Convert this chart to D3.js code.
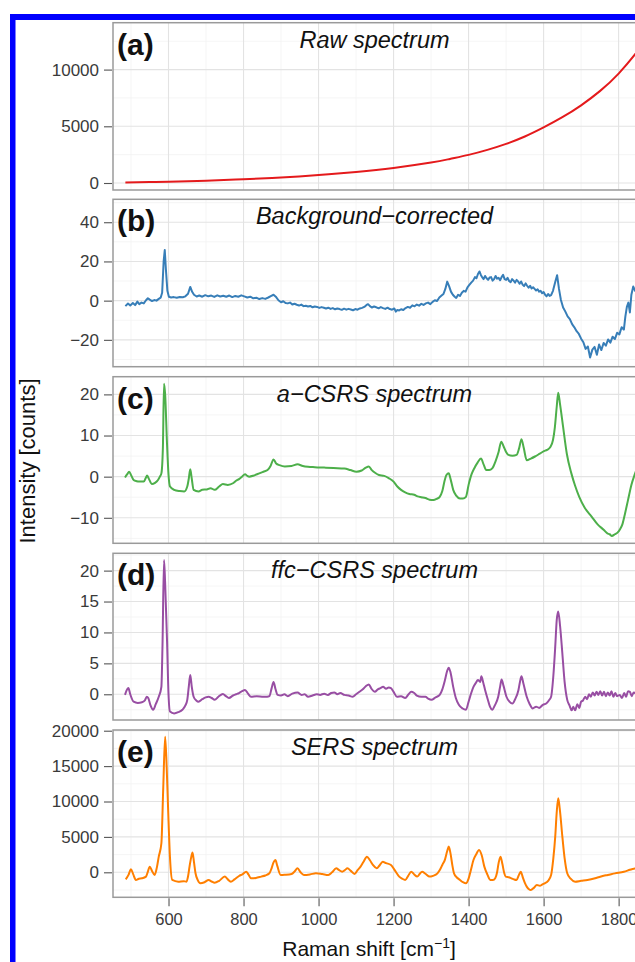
<!DOCTYPE html>
<html>
<head>
<meta charset="utf-8">
<script src="https://cdn.jsdelivr.net/npm/d3@7"></script>
<style>
  html, body { margin: 0; padding: 0; background: #fff; }
  svg { display: block; font-family: "Liberation Sans", Arial, Helvetica, sans-serif; }
</style>
</head>
<body>
<svg id="chart" width="635" height="962"></svg>
<script>
// ---- Spectra: [Raman shift (cm^-1), intensity] ----
const rawSpectrum = [
  [485, 45], [550, 80], [600, 115], [700, 200], [800, 330], [900, 480], [1000, 700],
  [1100, 980], [1200, 1330], [1300, 1800], [1350, 2120], [1400, 2480], [1450, 2920],
  [1500, 3450], [1550, 4100], [1600, 4900], [1650, 5800], [1700, 6850], [1750, 8100],
  [1800, 9650], [1850, 11600], [1880, 13000]
];

const backgroundCorrected = [
  [485, -2.8], [492, -1.5], [498, -2.5], [505, -1.2], [511, -2.3], [517, -0.5], [522, -1.8],
  [528, -1.0], [534, -1.4], [540, 0.2], [545, 1.2], [550, 0.5], [556, -0.2], [562, 0.3],
  [568, 0.0], [574, 0.9], [579, 1.5], [583, 4.0], [587, 20.0], [590, 25.8], [593, 16.0],
  [597, 5.0], [601, 2.0], [607, 1.6], [614, 1.8], [622, 1.5], [630, 1.9], [638, 1.7],
  [645, 2.2], [652, 3.5], [658, 7.0], [663, 4.5], [668, 3.0], [675, 2.1], [682, 2.6],
  [690, 2.0], [698, 2.8], [706, 2.2], [714, 2.6], [722, 1.9], [730, 2.7], [738, 2.1],
  [746, 2.5], [754, 2.0], [762, 2.6], [770, 1.8], [778, 2.4], [786, 2.0], [794, 2.7],
  [802, 2.2], [810, 1.6], [818, 2.0], [826, 1.2], [834, 1.5], [842, 0.8], [850, 1.3],
  [858, 0.9], [866, 1.6], [874, 2.4], [880, 3.0], [886, 2.0], [893, 0.2], [900, -0.8],
  [906, -0.3], [912, -1.2], [918, -1.4], [924, -1.0], [930, -2.0], [936, -1.6], [942, -2.1],
  [948, -2.5], [954, -2.0], [960, -2.8], [966, -2.6], [972, -3.0], [978, -2.7], [984, -3.4],
  [990, -3.0], [996, -3.2], [1002, -3.7], [1008, -3.3], [1014, -3.6], [1020, -4.0],
  [1026, -3.6], [1032, -4.2], [1038, -3.8], [1044, -4.4], [1050, -4.0], [1056, -4.3],
  [1062, -4.7], [1068, -4.1], [1074, -4.6], [1080, -4.2], [1086, -4.5], [1092, -4.9],
  [1098, -4.3], [1104, -4.6], [1110, -4.0], [1116, -3.7], [1122, -3.2], [1128, -2.2],
  [1132, -1.8], [1137, -2.8], [1142, -3.5], [1148, -3.0], [1154, -3.4], [1160, -3.9],
  [1166, -3.3], [1172, -3.8], [1178, -4.2], [1184, -3.6], [1190, -4.3], [1196, -4.6],
  [1202, -4.0], [1206, -5.6], [1210, -4.8], [1215, -5.0], [1220, -4.4], [1226, -4.8],
  [1232, -3.8], [1238, -3.2], [1244, -3.6], [1250, -2.4], [1256, -2.9], [1262, -2.0],
  [1268, -2.6], [1274, -1.6], [1280, -2.2], [1286, -1.4], [1292, -1.0], [1298, -1.8],
  [1304, -0.6], [1310, 0.2], [1316, -0.2], [1322, 1.6], [1328, 2.6], [1333, 3.4],
  [1338, 6.0], [1343, 9.7], [1348, 7.4], [1353, 4.6], [1358, 3.0], [1363, 2.0], [1367, 1.4],
  [1372, 3.0], [1377, 2.4], [1382, 4.0], [1387, 5.0], [1392, 4.6], [1397, 6.8], [1402, 8.0],
  [1407, 9.2], [1412, 10.2], [1417, 12.0], [1421, 11.4], [1425, 13.6], [1429, 14.9],
  [1433, 13.0], [1436, 12.0], [1440, 11.0], [1444, 12.6], [1448, 11.4], [1452, 10.6],
  [1456, 11.8], [1460, 12.0], [1464, 10.2], [1468, 11.0], [1472, 12.6], [1476, 11.2],
  [1480, 11.6], [1484, 10.4], [1488, 12.0], [1492, 13.2], [1496, 11.0], [1500, 10.6],
  [1504, 11.6], [1508, 10.0], [1512, 9.4], [1516, 11.0], [1520, 10.2], [1524, 9.2],
  [1528, 10.6], [1532, 9.8], [1536, 8.6], [1540, 9.8], [1544, 8.2], [1548, 7.4], [1552, 8.8],
  [1556, 7.6], [1560, 6.6], [1564, 7.6], [1568, 6.2], [1572, 6.8], [1576, 6.0], [1580, 5.2],
  [1584, 5.8], [1588, 4.6], [1592, 5.0], [1596, 3.8], [1600, 4.4], [1604, 3.0], [1608, 2.2],
  [1612, 3.4], [1616, 2.4], [1620, 2.8], [1625, 5.0], [1631, 9.5], [1636, 13.0], [1641, 6.0],
  [1646, 0.5], [1652, -3.5], [1658, -5.6], [1664, -8.0], [1670, -9.4], [1676, -12.0],
  [1682, -13.6], [1688, -15.6], [1694, -17.0], [1700, -19.4], [1706, -21.2], [1712, -24.6],
  [1718, -23.4], [1724, -29.0], [1730, -25.0], [1736, -23.6], [1742, -27.6], [1748, -22.4],
  [1754, -25.2], [1760, -21.6], [1766, -23.0], [1772, -19.8], [1778, -21.4], [1784, -18.4],
  [1790, -19.6], [1796, -16.4], [1802, -17.2], [1808, -13.6], [1814, -14.8], [1818, -8.0],
  [1822, -3.2], [1826, -1.0], [1830, -6.0], [1834, 3.0], [1839, 7.2], [1844, 5.0],
  [1850, 9.0], [1856, 14.0]
];

const aCsrsSpectrum = [
  [484, -0.2], [490, 0.6], [495, 1.2], [501, 0.2], [507, -0.8], [515, -1.1], [523, -1.2],
  [534, -1.2], [539, -0.4], [543, 0.3], [548, -0.6], [556, -1.8], [564, -1.5], [572, -0.8],
  [577, 0.0], [581, 0.8], [585, 7.0], [588, 22.6], [591, 20.0], [596, 8.0], [600, 0.5],
  [604, -2.4], [615, -3.2], [630, -3.5], [642, -3.6], [650, -2.4], [654, -0.5], [658, 1.8],
  [662, -0.5], [667, -3.2], [680, -3.6], [690, -3.2], [702, -3.1], [712, -2.8], [723, -3.2],
  [735, -2.4], [745, -1.8], [758, -2.0], [772, -1.6], [780, -1.0], [788, -0.6], [796, 0.0],
  [804, 0.6], [810, 0.2], [815, 0.0], [828, 0.3], [842, 0.8], [853, 1.2], [864, 1.6],
  [872, 2.6], [880, 4.2], [887, 3.2], [896, 2.8], [910, 2.5], [928, 2.6], [944, 3.0],
  [958, 2.6], [972, 2.4], [990, 2.3], [1015, 2.2], [1040, 2.1], [1069, 2.0], [1085, 1.6],
  [1101, 1.2], [1115, 1.5], [1126, 2.2], [1134, 2.5], [1142, 1.6], [1150, 1.0], [1161, 0.4],
  [1175, 0.2], [1188, -0.4], [1200, -1.2], [1210, -2.4], [1220, -3.2], [1231, -3.8],
  [1242, -4.2], [1255, -4.4], [1264, -4.8], [1274, -5.0], [1285, -5.2], [1296, -5.6],
  [1306, -5.7], [1315, -5.4], [1323, -4.9], [1330, -3.5], [1336, -1.0], [1341, 0.4],
  [1347, 0.8], [1352, -0.6], [1359, -3.2], [1367, -4.6], [1377, -5.3], [1385, -5.3],
  [1393, -4.9], [1400, -2.0], [1408, 0.6], [1415, 2.0], [1424, 3.4], [1433, 4.4],
  [1440, 3.0], [1447, 1.6], [1455, 1.6], [1463, 2.0], [1472, 3.8], [1480, 6.0], [1487, 8.5],
  [1494, 7.2], [1500, 6.0], [1506, 5.3], [1517, 5.1], [1528, 5.3], [1535, 7.0], [1541, 9.1],
  [1547, 7.0], [1555, 4.0], [1566, 4.4], [1577, 4.9], [1590, 5.6], [1601, 6.2], [1609, 6.5],
  [1618, 7.2], [1625, 8.9], [1630, 12.0], [1635, 17.0], [1639, 20.4], [1644, 17.5],
  [1652, 12.1], [1662, 5.5], [1674, 0.8], [1684, -2.2], [1695, -4.9], [1710, -7.6],
  [1728, -9.7], [1744, -11.6], [1760, -12.9], [1770, -13.8], [1776, -14.0], [1782, -14.4],
  [1790, -14.0], [1797, -13.6], [1803, -12.9], [1810, -11.6], [1817, -9.0], [1825, -5.7],
  [1834, -2.0], [1844, 0.8], [1856, 4.0]
];

const ffcCsrsSpectrum = [
  [484, -0.1], [488, 0.6], [493, 1.0], [498, 0.0], [507, -1.2], [518, -1.4], [529, -1.3],
  [537, -1.0], [542, -0.4], [546, -0.6], [552, -1.8], [559, -2.5], [566, -1.6], [574, -0.4],
  [581, 1.2], [584, 8.0], [588, 21.7], [591, 18.0], [596, 8.8], [600, 0.0], [604, -2.8],
  [615, -3.1], [626, -2.9], [637, -2.5], [645, -1.8], [650, -0.9], [654, 1.2], [658, 3.1],
  [662, 1.2], [667, -0.4], [674, -1.0], [680, -1.2], [690, -0.8], [699, -0.5], [707, -0.4],
  [715, -0.6], [723, -0.9], [733, -0.4], [745, 0.05], [753, -0.3], [761, -0.6], [772, -0.2],
  [780, 0.0], [788, 0.2], [796, 0.5], [804, 0.7], [812, 0.1], [820, -0.4], [835, -0.3],
  [853, -0.4], [863, -0.4], [869, -0.3], [875, 1.0], [880, 2.0], [885, 0.9], [891, -0.1],
  [900, -0.2], [909, 0.0], [918, -0.3], [930, 0.1], [944, 0.3], [955, -0.1], [963, 0.0],
  [972, -0.4], [984, -0.2], [995, 0.0], [1004, -0.1], [1015, 0.1], [1025, -0.1], [1034, 0.2],
  [1042, 0.3], [1050, 0.0], [1058, 0.2], [1069, -0.1], [1080, -0.2], [1091, -0.4],
  [1100, 0.0], [1109, 0.4], [1118, 0.8], [1126, 1.3], [1134, 1.6], [1141, 0.9], [1150, 0.4],
  [1158, 0.8], [1165, 1.0], [1172, 1.2], [1180, 0.9], [1187, 1.1], [1193, 1.0], [1200, 0.4],
  [1209, -0.4], [1220, -0.3], [1231, -0.6], [1240, 0.0], [1247, 0.4], [1255, 0.2],
  [1262, -0.2], [1274, -0.4], [1285, -0.4], [1292, -0.7], [1301, -0.9], [1312, -0.5],
  [1323, -0.1], [1330, 0.8], [1337, 2.3], [1343, 3.8], [1347, 4.3], [1352, 3.5], [1359, 1.2],
  [1366, -0.6], [1374, -1.7], [1384, -2.3], [1393, -2.5], [1400, -1.2], [1407, 0.2],
  [1413, 1.2], [1419, 1.8], [1425, 2.3], [1431, 2.0], [1434, 2.9], [1439, 1.9], [1444, 0.7],
  [1451, -0.8], [1457, -2.0], [1463, -2.5], [1470, -1.8], [1479, -0.4], [1484, 1.2],
  [1488, 2.4], [1493, 1.4], [1501, -0.4], [1509, -1.2], [1517, -1.5], [1524, -0.8],
  [1533, 0.7], [1537, 2.0], [1541, 2.9], [1546, 1.8], [1555, -0.4], [1563, -1.6],
  [1571, -2.3], [1580, -2.0], [1588, -2.2], [1598, -1.7], [1607, -1.5], [1614, -1.0],
  [1620, -0.4], [1626, 3.0], [1631, 7.7], [1635, 12.0], [1639, 13.4], [1644, 11.0],
  [1650, 6.6], [1656, 2.0], [1663, -0.9], [1669, -1.8], [1675, -2.6], [1679, -2.0],
  [1684, -2.6], [1690, -1.6], [1695, -2.2], [1700, -1.2], [1705, -1.0], [1711, -0.4],
  [1716, -0.8], [1721, 0.0], [1726, -0.4], [1731, 0.3], [1736, -0.2], [1741, 0.4],
  [1746, -0.1], [1751, 0.5], [1756, -0.2], [1761, 0.4], [1766, -0.3], [1771, 0.3],
  [1776, -0.2], [1781, 0.5], [1786, -0.4], [1791, 0.2], [1796, -0.3], [1803, -0.1],
  [1809, -0.6], [1815, 0.2], [1820, -0.4], [1825, 0.5], [1830, 0.4], [1835, -0.3],
  [1840, 0.3], [1844, 0.2], [1856, 0.0]
];

const sersSpectrum = [
  [486, -990], [493, -400], [500, 420], [506, -300], [513, -1080], [521, -900], [529, -850],
  [540, -610], [545, 100], [550, 800], [556, 200], [563, -380], [569, 700], [574, 2210],
  [581, 4100], [586, 12000], [591, 19160], [595, 15000], [599, 8800], [604, 2000],
  [610, -1080], [626, -1320], [640, -1250], [648, -1320], [652, -600], [656, 800],
  [660, 2000], [664, 2780], [668, 1400], [672, -140], [678, -1100], [685, -1550],
  [696, -1400], [707, -1080], [715, -1300], [723, -1460], [735, -1200], [750, -610],
  [758, -1000], [766, -1320], [776, -1000], [788, -520], [798, -250], [807, 90], [813, -300],
  [820, -850], [833, -800], [847, -610], [858, -450], [869, -140], [875, 600], [880, 1400],
  [885, 1740], [890, 900], [899, -380], [910, -350], [928, -240], [936, 100], [944, 560],
  [952, 0], [961, -380], [977, -300], [993, -140], [1010, -250], [1026, -380], [1036, 0],
  [1047, 560], [1055, 300], [1063, 90], [1070, 300], [1077, 560], [1086, 200], [1096, -240],
  [1104, 300], [1112, 800], [1120, 1500], [1129, 2210], [1137, 1700], [1145, 1040],
  [1155, 560], [1163, 1000], [1171, 1500], [1180, 1300], [1193, 1040], [1203, 300],
  [1215, -610], [1223, -900], [1231, -1080], [1239, -500], [1247, 90], [1255, -300],
  [1263, -610], [1270, -200], [1276, 90], [1285, -200], [1296, -610], [1305, -500],
  [1317, -140], [1324, 400], [1330, 1040], [1337, 1800], [1343, 3000], [1347, 3630],
  [1352, 2600], [1357, 900], [1361, -140], [1368, -700], [1377, -1080], [1385, -1400],
  [1393, -1550], [1400, -900], [1406, 300], [1413, 1740], [1420, 2500], [1428, 3150],
  [1435, 2400], [1442, 800], [1450, -300], [1458, -1080], [1465, -1100], [1471, -850],
  [1476, 0], [1480, 1300], [1485, 2210], [1490, 1200], [1495, -100], [1499, -610],
  [1507, -700], [1514, -850], [1521, -1000], [1528, -1080], [1534, -400], [1539, 90],
  [1545, -800], [1550, -1500], [1555, -2020], [1561, -2400], [1566, -2500], [1574, -2200],
  [1582, -1790], [1590, -1900], [1597, -1700], [1603, -1550], [1612, -1200], [1620, -380],
  [1626, 2000], [1631, 5040], [1635, 8500], [1639, 10450], [1643, 9000], [1650, 5040],
  [1656, 2000], [1663, -140], [1672, -900], [1684, -1320], [1700, -1200], [1717, -1080],
  [1740, -800], [1760, -500], [1771, -380], [1790, -150], [1814, 90], [1830, 350],
  [1844, 560], [1856, 750]
];

// ---- Axis ticks ----
const xTicks = [600, 800, 1000, 1200, 1400, 1600, 1800];
const xMinorTicks = [500, 700, 900, 1100, 1300, 1500, 1700, 1900];
const ticksA = [0, 5000, 10000];
const ticksB = [-20, 0, 20, 40];
const ticksC = [-10, 0, 10, 20];
const ticksD = [0, 5, 10, 15, 20];
const ticksE = [0, 5000, 10000, 15000, 20000];

const panelLabels = ["(a)", "(b)", "(c)", "(d)", "(e)"];
const panelTitles = ["Raw spectrum", "Background\u2212corrected", "a\u2212CSRS spectrum",
                     "ffc\u2212CSRS spectrum", "SERS spectrum"];
const seriesColors = ["#e41a1c", "#377eb8", "#4daf4a", "#984ea3", "#ff7f00"];

// ---- Layout ----
const W = 635, H = 962;
const panelLeft = 113, panelRight = 640;
const panels = [
  { data: rawSpectrum,         ticks: ticksA, top: 22.7,  bottom: 190,   domain: [-617, 14135], curve: d3.curveNatural },
  { data: backgroundCorrected, ticks: ticksB, top: 199.3, bottom: 366.7, domain: [-33.7, 51.7], curve: d3.curveLinear },
  { data: aCsrsSpectrum,       ticks: ticksC, top: 376.7, bottom: 543.3, domain: [-16.2, 24.3], curve: d3.curveMonotoneX },
  { data: ffcCsrsSpectrum,     ticks: ticksD, top: 553.3, bottom: 720,   domain: [-4.16, 22.8], curve: d3.curveMonotoneX },
  { data: sersSpectrum,        ticks: ticksE, top: 730,   bottom: 897.3, domain: [-3531, 20100], curve: d3.curveMonotoneX }
];

const svg = d3.select("#chart");
svg.append("rect").attr("width", W).attr("height", H).attr("fill", "#fff");

const x = d3.scaleLinear().domain([452, 1857]).range([panelLeft, panelRight]);
const fmt = v => (v < 0 ? "\u2212" + Math.abs(v) : String(v));

panels.forEach((p, i) => {
  const y = d3.scaleLinear().domain(p.domain).range([p.bottom, p.top]);
  const g = svg.append("g");
  const clipId = "clip" + i;
  g.append("clipPath").attr("id", clipId)
    .append("rect").attr("x", panelLeft).attr("y", p.top)
    .attr("width", panelRight - panelLeft).attr("height", p.bottom - p.top);

  const grid = g.append("g").attr("clip-path", `url(#${clipId})`);
  // minor grid lines halfway between the major ones
  const step = p.ticks[1] - p.ticks[0];
  const yMinor = d3.range(p.ticks[0] - step / 2, p.domain[1], step).filter(v => v > p.domain[0]);
  grid.selectAll(".ymin").data(yMinor).join("line")
    .attr("x1", panelLeft).attr("x2", panelRight)
    .attr("y1", d => y(d)).attr("y2", d => y(d))
    .attr("stroke", "#f2f2f2").attr("stroke-width", 0.8);
  grid.selectAll(".xmin").data(xMinorTicks).join("line")
    .attr("x1", d => x(d)).attr("x2", d => x(d))
    .attr("y1", p.top).attr("y2", p.bottom)
    .attr("stroke", "#f2f2f2").attr("stroke-width", 0.8);
  // major grid
  grid.selectAll(".ymaj").data(p.ticks).join("line")
    .attr("x1", panelLeft).attr("x2", panelRight)
    .attr("y1", d => y(d)).attr("y2", d => y(d))
    .attr("stroke", "#e3e3e3").attr("stroke-width", 1.1);
  grid.selectAll(".xmaj").data(xTicks).join("line")
    .attr("x1", d => x(d)).attr("x2", d => x(d))
    .attr("y1", p.top).attr("y2", p.bottom)
    .attr("stroke", "#e3e3e3").attr("stroke-width", 1.1);

  // spectrum trace
  const line = d3.line().x(d => x(d[0])).y(d => y(d[1])).curve(p.curve);
  g.append("path").datum(p.data)
    .attr("clip-path", `url(#${clipId})`)
    .attr("d", line)
    .attr("fill", "none")
    .attr("stroke", seriesColors[i])
    .attr("stroke-width", 2)
    .attr("stroke-linejoin", "round");

  // panel border
  g.append("rect")
    .attr("x", panelLeft).attr("y", p.top)
    .attr("width", panelRight - panelLeft).attr("height", p.bottom - p.top)
    .attr("fill", "none").attr("stroke", "#9a9a9a").attr("stroke-width", 1.5);

  // y axis
  const ax = g.append("g").attr("transform", `translate(${panelLeft - 1},0)`)
    .call(d3.axisLeft(y).tickValues(p.ticks).tickSize(8).tickPadding(5).tickFormat(fmt));
  ax.select(".domain").remove();
  ax.selectAll(".tick line").attr("stroke", "#555").attr("stroke-width", 1.1);
  ax.selectAll(".tick text").attr("fill", "#3a3a3a").style("font-size", "17px")
    .style("font-family", "'Liberation Sans', Arial, sans-serif");

  // panel label and title
  g.append("text").attr("x", 117).attr("y", p.top + 32)
    .attr("font-size", 30).attr("font-weight", "bold").attr("fill", "#111")
    .text(panelLabels[i]);
  g.append("text").attr("x", 374.5).attr("y", p.top + 25)
    .attr("text-anchor", "middle").attr("font-size", 23.5).attr("font-style", "italic")
    .attr("fill", "#111").text(panelTitles[i]);

  // x axis under the bottom panel
  if (i === panels.length - 1) {
    const xa = g.append("g").attr("transform", `translate(0,${p.bottom + 1})`)
      .call(d3.axisBottom(x).tickValues(xTicks).tickSize(8).tickPadding(7).tickFormat(String));
    xa.select(".domain").remove();
    xa.selectAll(".tick line").attr("stroke", "#555").attr("stroke-width", 1.1);
    xa.selectAll(".tick text").attr("fill", "#3a3a3a").style("font-size", "16.5px")
      .style("font-family", "'Liberation Sans', Arial, sans-serif");
  }
});

// axis titles
const xt = svg.append("text").attr("x", 369).attr("y", 956)
  .attr("text-anchor", "middle").attr("font-size", 21).attr("fill", "#111");
xt.append("tspan").text("Raman shift [cm");
xt.append("tspan").attr("dy", -8).attr("font-size", 14).text("\u22121");
xt.append("tspan").attr("dy", 8).text("]");

svg.append("text")
  .attr("transform", "translate(35,461) rotate(-90)")
  .attr("text-anchor", "middle").attr("font-size", 22).attr("fill", "#111")
  .text("Intensity [counts]");

// blue frame
svg.append("rect").attr("x", 10).attr("y", 14).attr("width", 5.5).attr("height", H - 14).attr("fill", "#0000fe");
svg.append("rect").attr("x", 10).attr("y", 14).attr("width", W - 10).attr("height", 6).attr("fill", "#0000fe");
</script>
</body>
</html>
